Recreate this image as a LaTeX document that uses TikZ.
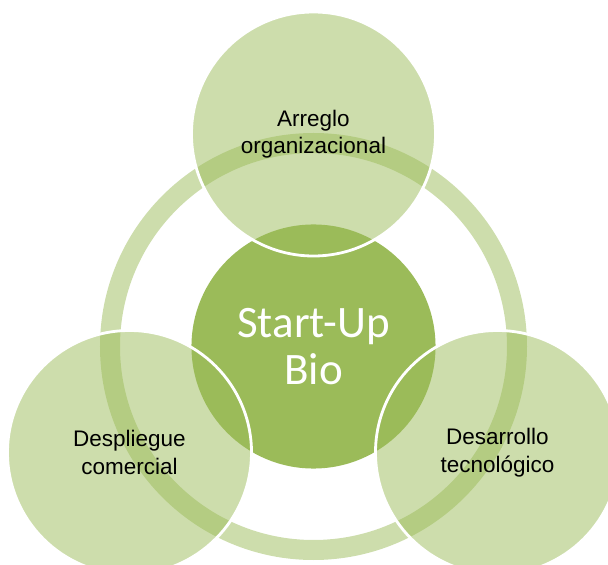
\documentclass[tikz,border=0pt]{standalone}
\usepackage{fontspec}
\setmainfont{Liberation Sans}
\newfontfamily\startfont{Carlito}
\definecolor{bio}{HTML}{9BBB59}

\begin{document}
\begin{tikzpicture}[x=0.025cm, y=-0.025cm, %pixel units, y going down
  petal/.style={circle, fill=bio, fill opacity=0.5, text opacity=1, minimum size=6.1cm, inner sep=0pt, align=center, font=\fontsize{16}{19.5}\selectfont},
  core/.style={circle, fill=bio, minimum size=6.1cm, inner sep=0pt, align=center, text=white, font=\startfont\fontsize{32}{34}\selectfont},
  rim/.style={white, line width=2pt}]
\useasboundingbox (0,0) rectangle (608,565);
\clip (0,0) rectangle (608,565); %right and bottom circles run off the page
\coordinate (mid) at (313.5,346.5);
\draw[bio, draw opacity=0.5, line width=0.5cm] (mid) circle (203.5); %the ring
\node[petal] (arreglo) at (313.5,134) {Arreglo\\organizacional};
\node[petal] (despliegue) at (129.5,452.5) {Despliegue\\comercial};
\node[petal] (desarrollo) at (497.5,452.5) {Desarrollo\\tecnológico};
\node[core] (startup) at (mid) {Start-Up\\Bio};
% white borders go on top of everything
\foreach \n in {arreglo,despliegue,desarrollo}
  \draw[rim] (\n.center) circle (122);
\end{tikzpicture}
\end{document}
